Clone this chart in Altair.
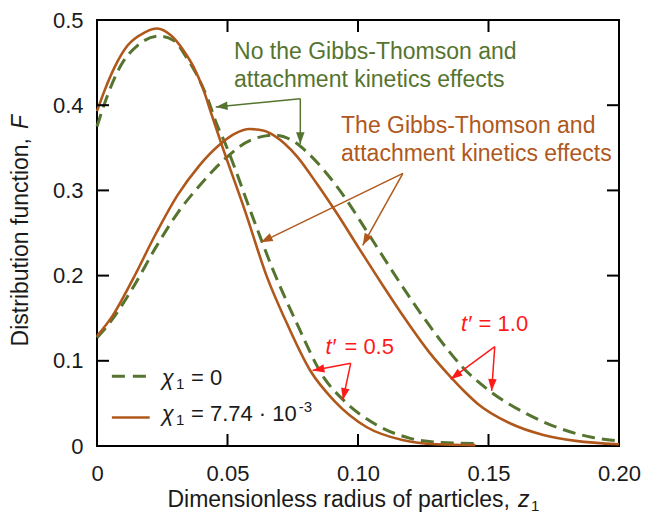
import math
import altair as alt
import pandas as pd

# ---------------- data ----------------
# t' = 0.5, chi1 = 7.74e-3 (solid brown)
z_s05 = [0, 0.003, 0.0068, 0.0117, 0.018, 0.023, 0.0283, 0.0332, 0.037, 0.0408, 0.0438,
         0.0475, 0.0567, 0.0653, 0.072, 0.0818, 0.0909, 0.1034, 0.117, 0.13, 0.145]
F_s05 = [0.393, 0.418, 0.445, 0.470, 0.485, 0.490, 0.482, 0.464, 0.445, 0.418, 0.390,
         0.356, 0.276, 0.197, 0.149, 0.088, 0.053, 0.022, 0.007, 0.002, 0.001]
# t' = 0.5, chi1 = 0 (dashed green)
z_d05 = [0, 0.0042, 0.0094, 0.0155, 0.0238, 0.0294, 0.0343, 0.038, 0.0426, 0.0457, 0.049,
         0.0606, 0.0674, 0.0758, 0.087, 0.0947, 0.107, 0.12, 0.132, 0.145]
F_d05 = [0.375, 0.413, 0.448, 0.470, 0.481, 0.476, 0.456, 0.437, 0.406, 0.379, 0.356,
         0.261, 0.207, 0.149, 0.080, 0.053, 0.025, 0.009, 0.004, 0.003]
# t' = 1.0, chi1 = 7.74e-3 (solid brown)
z_s10 = [0, 0.006, 0.0136, 0.0227, 0.031, 0.0389, 0.0464, 0.0525, 0.0585, 0.064, 0.068,
         0.0766, 0.0842, 0.0917, 0.1004, 0.1094, 0.1181, 0.1268, 0.1358, 0.1408, 0.1457,
         0.158, 0.171, 0.1834, 0.2]
F_s10 = [0.129, 0.153, 0.195, 0.250, 0.295, 0.328, 0.352, 0.366, 0.372, 0.370, 0.364,
         0.340, 0.308, 0.274, 0.232, 0.189, 0.149, 0.112, 0.080, 0.064, 0.050,
         0.027, 0.013, 0.006, 0.002]
# t' = 1.0, chi1 = 0 (dashed green)
z_d10 = [0, 0.005, 0.0136, 0.0227, 0.031, 0.04, 0.049, 0.0589, 0.068, 0.0766, 0.0804,
         0.0928, 0.1038, 0.1132, 0.1219, 0.1306, 0.1396, 0.1494, 0.158, 0.1645, 0.177,
         0.19, 0.2]
F_d10 = [0.127, 0.145, 0.185, 0.234, 0.274, 0.308, 0.337, 0.359, 0.365, 0.355, 0.345,
         0.301, 0.250, 0.205, 0.165, 0.128, 0.094, 0.067, 0.049, 0.038, 0.021,
         0.010, 0.006]

x_ticks = [0, 0.05, 0.1, 0.15, 0.2]
y_ticks = [0, 0.1, 0.2, 0.3, 0.4, 0.5]
x_inner_ticks = [0.05, 0.1, 0.15]
y_inner_ticks = [0.1, 0.2, 0.3, 0.4]

# annotation texts (z, F, text)
green_txt = [(0.0525, 0.463, "No the Gibbs-Thomson and"),
             (0.0525, 0.430, "attachment kinetics effects")]
brown_txt = [(0.0935, 0.376, "The Gibbs-Thomson and"),
             (0.0935, 0.343, "attachment kinetics effects")]
red_t = [(0.0875, 0.1166, "t\u2032"), (0.1395, 0.1432, "t\u2032")]
red_val = [(0.0948, 0.1166, "= 0.5"), (0.1462, 0.1432, "= 1.0")]

# arrows: vertex (z0, F0) -> tip (z1, F1), colour key
arrows = [
    (0.0779, 0.4076, 0.0455, 0.398, "g"),
    (0.0779, 0.4076, 0.0779, 0.3545, "g"),
    (0.1172, 0.320, 0.0628, 0.239, "b"),
    (0.1172, 0.320, 0.1018, 0.2356, "b"),
    (0.0972, 0.097, 0.0826, 0.0885, "r"),
    (0.0972, 0.097, 0.0942, 0.054, "r"),
    (0.1524, 0.1166, 0.1355, 0.0784, "r"),
    (0.1524, 0.1166, 0.1512, 0.0647, "r"),
]

# legend
leg_line_z = [0.0057, 0.0202]
leg_F = [0.082, 0.0335]
leg_text_F = [0.080, 0.037]
leg_chi_z = 0.0248
leg_sub_z = 0.0303
leg_eq_z = 0.0360
leg_eq_txt = ["= 0", "= 7.74 \u00b7 10"]
leg_sup_z = 0.0773
leg_sup_txt = "-3"

# ---------------- styling ----------------
GREEN = "#55742f"
BROWN = "#b0581c"
RED = "#ff1a1a"
INK = "#1a1a1a"
FONT = "Liberation Sans"
W, H = 522, 426
PX_Z = W / 0.2
PX_F = H / 0.5

xs = alt.Scale(domain=[0, 0.2], nice=False, zero=False)
ys = alt.Scale(domain=[0, 0.5], nice=False, zero=False)

xaxis = alt.Axis(values=x_ticks,
                 labelExpr="datum.value == 0 ? '0' : format(datum.value, '.2f')",
                 ticks=False, domain=False, grid=False, title=None,
                 labelFont=FONT, labelFontSize=22, labelColor=INK,
                 labelPadding=17, labelFlush=False, labelOverlap=False)
yaxis = alt.Axis(values=y_ticks,
                 labelExpr="datum.value == 0 ? '0' : format(datum.value, '.1f')",
                 ticks=False, domain=False, grid=False, title=None,
                 labelFont=FONT, labelFontSize=22, labelColor=INK,
                 labelPadding=14, labelFlush=False, labelOverlap=False)


def X(f):
    return alt.X(f"{f}:Q", scale=xs, axis=xaxis)


def Y(f):
    return alt.Y(f"{f}:Q", scale=ys, axis=yaxis)


def curve_df(pairs):
    rows = []
    for name, zz, ff in pairs:
        for a, b in zip(zz, ff):
            rows.append({"z": a, "F": b, "t": name})
    return pd.DataFrame(rows)


dash_df = curve_df([("0.5", z_d05, F_d05), ("1.0", z_d10, F_d10)])
solid_df = curve_df([("0.5", z_s05, F_s05), ("1.0", z_s10, F_s10)])

dashed = alt.Chart(dash_df).mark_line(
    color=GREEN, strokeWidth=3, strokeDash=[13, 7], interpolate="monotone"
).encode(x=X("z"), y=Y("F"), detail="t:N")

solid = alt.Chart(solid_df).mark_line(
    color=BROWN, strokeWidth=2.6, interpolate="monotone"
).encode(x=X("z"), y=Y("F"), detail="t:N")

# inward ticks on all four sides
xt = pd.DataFrame({"v": x_inner_ticks})
yt = pd.DataFrame({"v": y_inner_ticks})
tick_style = dict(color="black", strokeWidth=2)
ticks = [
    alt.Chart(xt).mark_rule(**tick_style).encode(x=X("v"), y=alt.value(H), y2=alt.value(H - 12)),
    alt.Chart(xt).mark_rule(**tick_style).encode(x=X("v"), y=alt.value(0), y2=alt.value(12)),
    alt.Chart(yt).mark_rule(**tick_style).encode(y=Y("v"), x=alt.value(0), x2=alt.value(12)),
    alt.Chart(yt).mark_rule(**tick_style).encode(y=Y("v"), x=alt.value(W), x2=alt.value(W - 12)),
]

# arrows
cmap = {"g": GREEN, "b": BROWN, "r": RED}
arr_rows = []
for z0, f0, z1, f1, c in arrows:
    dx = (z1 - z0) * PX_Z
    dy = -(f1 - f0) * PX_F
    ang = math.degrees(math.atan2(dx, -dy)) % 360
    arr_rows.append({"z0": z0, "F0": f0, "z1": z1, "F1": f1, "col": cmap[c], "ang": ang})
arr_df = pd.DataFrame(arr_rows)

arrow_lines = alt.Chart(arr_df).mark_rule(strokeWidth=1.5).encode(
    x=X("z0"), y=Y("F0"), x2="z1:Q", y2="F1:Q",
    color=alt.Color("col:N", scale=None))
arrow_heads = alt.Chart(arr_df).mark_point(
    shape="M0,0L-0.36,1L0.36,1Z", filled=True, opacity=1, size=560, strokeWidth=0
).encode(x=X("z1"), y=Y("F1"), color=alt.Color("col:N", scale=None),
         angle=alt.Angle("ang:Q", scale=None))


def text_layer(items, color, size=22, italic=False, align="left", dy=0):
    df = pd.DataFrame(items, columns=["z", "F", "label"])
    return alt.Chart(df).mark_text(
        align=align, baseline="middle", font=FONT, fontSize=size, color=color,
        fontStyle="italic" if italic else "normal", dy=dy
    ).encode(x=X("z"), y=Y("F"), text="label:N")


texts = [
    text_layer(green_txt, GREEN, size=23),
    text_layer(brown_txt, BROWN, size=23),
    text_layer(red_t, RED, italic=True),
    text_layer(red_val, RED),
]

# legend
leg_df = pd.DataFrame({"z0": [leg_line_z[0]] * 2, "z1": [leg_line_z[1]] * 2, "F": leg_F})
leg_dash = alt.Chart(leg_df.iloc[[0]]).mark_rule(
    color=GREEN, strokeWidth=3, strokeDash=[13, 8]).encode(x=X("z0"), x2="z1:Q", y=Y("F"))
leg_solid = alt.Chart(leg_df.iloc[[1]]).mark_rule(
    color=BROWN, strokeWidth=2.6).encode(x=X("z0"), x2="z1:Q", y=Y("F"))
leg_texts = [
    text_layer([(leg_chi_z, f, "\u03c7") for f in leg_text_F], INK, italic=True),
    text_layer([(leg_sub_z, f, "1") for f in leg_text_F], INK, size=15, dy=6),
    text_layer([(leg_eq_z, f, t) for f, t in zip(leg_text_F, leg_eq_txt)], INK),
    text_layer([(leg_sup_z, leg_text_F[1], leg_sup_txt)], INK, size=15, dy=-7),
]

# axis titles (drawn as text to allow italic symbols)
title_base = dict(font=FONT, fontSize=23, color=INK)
one = pd.DataFrame({"a": [0]})
titles = [
    alt.Chart(one).mark_text(align="right", baseline="middle", **title_base).encode(
        x=alt.value(413), y=alt.value(480), text=alt.value("Dimensionless radius of particles,")),
    alt.Chart(one).mark_text(align="left", baseline="middle", fontStyle="italic", **title_base).encode(
        x=alt.value(421), y=alt.value(480), text=alt.value("z")),
    alt.Chart(one).mark_text(align="left", baseline="middle", font=FONT, fontSize=15, color=INK).encode(
        x=alt.value(434), y=alt.value(486), text=alt.value("1")),
    alt.Chart(one).mark_text(align="right", baseline="alphabetic", angle=270, **title_base).encode(
        x=alt.value(-69), y=alt.value(118), text=alt.value("Distribution function,")),
    alt.Chart(one).mark_text(align="left", baseline="alphabetic", angle=270, fontStyle="italic", **title_base).encode(
        x=alt.value(-69), y=alt.value(109), text=alt.value("F")),
]

chart = alt.layer(
    dashed, solid, *ticks, arrow_lines, arrow_heads, *texts,
    leg_dash, leg_solid, *leg_texts, *titles
).properties(
    width=W, height=H,
    autosize=alt.AutoSizeParams(type="none"),
    padding={"left": 89, "top": 12, "right": 23, "bottom": 72},
).configure_view(stroke="black", strokeWidth=2)

chart.save("out.html", embed_options={"renderer": "svg", "actions": False})
